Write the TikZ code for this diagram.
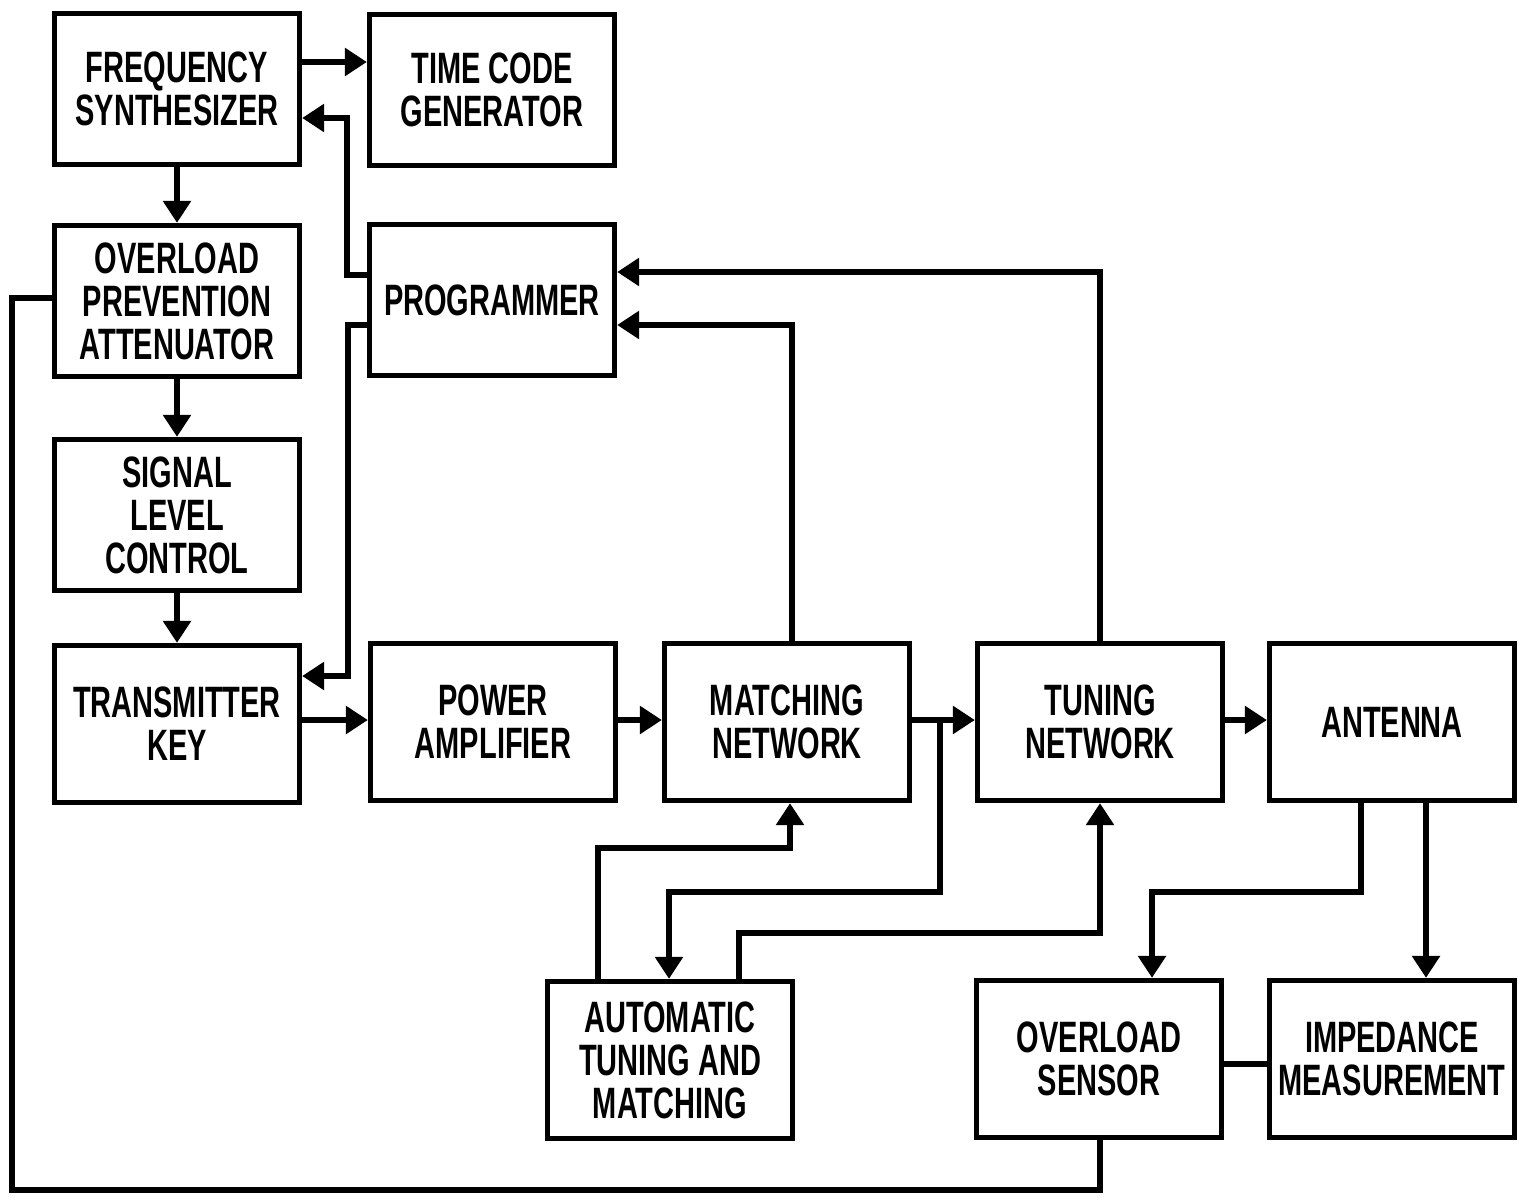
\documentclass[tikz,border=0pt]{standalone}
\usepackage{fontspec}
\setmainfont{Liberation Sans}[FakeStretch=0.66]
\usetikzlibrary{arrows.meta}

\begin{document}
\begin{tikzpicture}[x=0.02cm, y=-0.02cm,
  blk/.style={draw=black, line width=3pt, fill=white, minimum width=4.9cm,
    minimum height=3.02cm, align=center, inner sep=1pt,
    font=\fontsize{25}{24.5}\selectfont\bfseries},
  blkhi/.style={blk, minimum height=3.14cm},
  arr/.style={-{Triangle[length=4.4mm,width=5.4mm]}, line width=3.3pt},
  wire/.style={line width=3.3pt}
]
  \useasboundingbox (0,0) rectangle (1518,1197);
  % left column
  \node[blk] (fs) at (177,89) {FREQUENCY\\SYNTHESIZER};
  \node[blk] (opa) at (177,301) {OVERLOAD\\PREVENTION\\ATTENUATOR};
  \node[blk] (slc) at (177,515) {SIGNAL\\LEVEL\\CONTROL};
  \node[blkhi] (tk) at (177,724) {TRANSMITTER\\KEY};
  % second column
  \node[blk] (tcg) at (492,90) {TIME CODE\\GENERATOR};
  \node[blk] (prog) at (492,300) {PROGRAMMER};
  % signal chain
  \node[blkhi] (pa) at (493,722) {POWER\\AMPLIFIER};
  \node[blkhi] (mn) at (787,722) {MATCHING\\NETWORK};
  \node[blkhi] (tn) at (1100,722) {TUNING\\NETWORK};
  \node[blkhi] (ant) at (1392,722) {ANTENNA};
  % bottom row
  \node[blkhi] (atm) at (670,1060) {AUTOMATIC\\TUNING AND\\MATCHING};
  \node[blkhi] (os) at (1099,1059) {OVERLOAD\\SENSOR};
  \node[blkhi] (im) at (1392,1059) {IMPEDANCE\\MEASUREMENT};
  \coordinate (tap) at (940,720);

  \draw[arr] (fs.east |- 0,62) -- (tcg.west |- 0,62);
  \draw[arr] (prog.west |- 0,275) -| (347,118) -- (fs.east |- 0,118);
  \draw[arr] (fs.south) -- (opa.north);
  \draw[arr] (opa.south) -- (slc.north);
  \draw[arr] (slc.south) -- (tk.north);
  \draw[arr] (prog.west |- 0,325) -| (348,676) -- (tk.east |- 0,676);
  \draw[arr] (tk.east |- 0,720) -- (pa.west |- 0,720);
  \draw[arr] (pa.east |- 0,720) -- (mn.west |- 0,720);
  \draw[arr] (mn.east |- 0,720) -- (tn.west |- 0,720);
  \draw[arr] (tn.east |- 0,720) -- (ant.west |- 0,720);
  \draw[arr] (mn.north -| 792,0) |- (prog.east |- 0,325);
  \draw[arr] (tn.north) |- (prog.east |- 0,272);
  \draw[arr] (atm.north -| 598,0) |- (790,848) -- (mn.south -| 790,0);
  \draw[arr] (tap) |- (669,892) -- (atm.north -| 669,0);
  \draw[arr] (atm.north -| 739,0) |- (1100,933) -- (tn.south);
  \draw[arr] (ant.south -| 1361,0) |- (1152,892) -- (os.north -| 1152,0);
  \draw[arr] (ant.south -| 1426,0) -- (im.north -| 1426,0);
  \draw[wire] (os.east |- 0,1064) -- (im.west |- 0,1064);
  \draw[wire] (os.south -| 1100,0) |- (12,1190) |- (opa.west |- 0,298);
\end{tikzpicture}
\end{document}
